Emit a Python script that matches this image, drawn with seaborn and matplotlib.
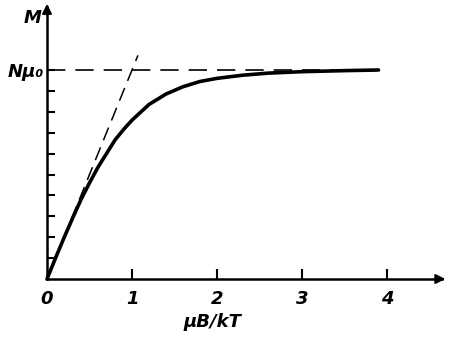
import numpy as np
import matplotlib
matplotlib.use("Agg")
import matplotlib.pyplot as plt
import seaborn as sns

# values (M in units of N*mu0)
x_curve = [0, 0.1, 0.2, 0.3, 0.4, 0.5, 0.6, 0.7, 0.8, 0.9, 1.0, 1.2, 1.4, 1.6,
           1.8, 2.0, 2.3, 2.6, 3.0, 3.5, 3.9]
M_curve = [0, 0.10, 0.197, 0.29, 0.38, 0.46, 0.535, 0.60, 0.665, 0.715, 0.76,
           0.835, 0.885, 0.92, 0.945, 0.96, 0.975, 0.985, 0.992, 0.997, 1.0]
x_tangent = [0, 1.07]
M_tangent = [0, 1.07]
x_sat = [0, 3.9]
M_sat = [1.0, 1.0]
x_ticks = [0, 1, 2, 3, 4]
x_ticklabels = ["0", "1", "2", "3", "4"]
y_ticks = [0.1, 0.2, 0.3, 0.4, 0.5, 0.6, 0.7, 0.8, 0.9, 1.0]
y_ticklabels = ["", "", "", "", "", "", "", "", "", "Nμ₀"]

sns.set_style("white")
plt.rcParams["text.color"] = "black"
plt.rcParams["xtick.color"] = "black"
plt.rcParams["ytick.color"] = "black"

fig = plt.figure(figsize=(4.51, 3.39), dpi=100)
ax = fig.add_axes([0, 0, 1, 1])
ax.set_xlim(-47 / 85, 404 / 85)
ax.set_ylim(-60 / 209, 279 / 209)

sns.lineplot(x=x_curve, y=M_curve, ax=ax, color="black", lw=2.6, sort=False)
sns.lineplot(x=x_tangent, y=M_tangent, ax=ax, color="black", lw=1.1,
             linestyle=(0, (9, 5)))
sns.lineplot(x=x_sat, y=M_sat, ax=ax, color="black", lw=1.2, linestyle=(0, (11, 6)))

for s in ["top", "right"]:
    ax.spines[s].set_visible(False)
ax.spines["left"].set_position(("data", 0))
ax.spines["bottom"].set_position(("data", 0))
ax.spines["left"].set_bounds(0, 1.3)
ax.spines["bottom"].set_bounds(0, 4.65)
for s in ["left", "bottom"]:
    ax.spines[s].set_linewidth(1.8)
    ax.spines[s].set_color("black")

# arrow heads
ax.annotate("", xy=(4.72, 0), xytext=(4.55, 0),
            arrowprops=dict(arrowstyle="-|>", color="black", lw=1.5, mutation_scale=14))
ax.annotate("", xy=(0, 1.33), xytext=(0, 1.25),
            arrowprops=dict(arrowstyle="-|>", color="black", lw=1.5, mutation_scale=14))

ax.set_xticks(x_ticks)
ax.set_xticklabels(x_ticklabels)
ax.set_yticks(y_ticks)
ax.set_yticklabels(y_ticklabels)
ax.tick_params(axis="x", bottom=True, direction="in", length=7, width=1.5, pad=8,
               labelsize=13)
ax.tick_params(axis="y", left=True, direction="in", length=6, width=1.5, pad=2,
               labelsize=13)
for lab in ax.get_xticklabels() + ax.get_yticklabels():
    lab.set_fontstyle("italic")
    lab.set_fontweight("bold")
ax.get_xticklines()[0].set_visible(False)

ax.text(1.95, -0.205, "μB/kT", ha="center", va="center", fontsize=13,
        fontstyle="italic", fontweight="bold")
ax.text(-0.17, 1.25, "M", ha="center", va="center", fontsize=13,
        fontstyle="italic", fontweight="bold")

fig.savefig("out.png", dpi=100)
